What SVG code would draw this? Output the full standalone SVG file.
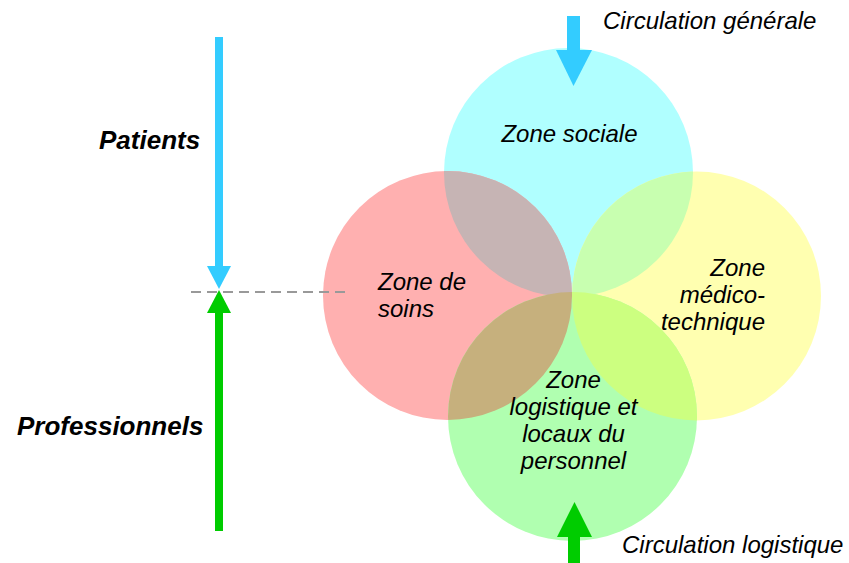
<svg xmlns="http://www.w3.org/2000/svg" width="849" height="563" viewBox="0 0 849 563">
  <style>
    .zone { font-family: "Liberation Sans", Arial, sans-serif; font-style: italic; font-size: 24px; fill: #000; }
    .flow { font-family: "Liberation Sans", Arial, sans-serif; font-style: italic; font-size: 24px; fill: #000; }
    .actor { font-family: "Liberation Sans", Arial, sans-serif; font-style: italic; font-weight: bold; font-size: 26px; fill: #000; }
    .blue { fill: #33CCFF; }
    .green { fill: #00CC00; }
  </style>
  <defs>
    <clipPath id="clipSociale"><circle cx="568.5" cy="172.5" r="124.5"/></clipPath>
    <clipPath id="clipLogistique"><circle cx="572.5" cy="416.5" r="124.5"/></clipPath>
  </defs>

  <rect width="849" height="563" fill="#FFFFFF"/>

  <!-- zone circles -->
  <g id="zone-sociale">
    <circle cx="568.5" cy="172.5" r="124.5" fill="#B0FFFF"/>
  </g>
  <g id="zone-soins">
    <circle cx="447.5" cy="295.5" r="124.5" fill="#FFB0B0"/>
  </g>
  <g id="zone-medico-technique">
    <circle cx="696.5" cy="296" r="124.5" fill="#FFFFB0"/>
  </g>
  <g id="zone-logistique">
    <circle cx="572.5" cy="416.5" r="124.5" fill="#B0FFB0"/>
  </g>

  <!-- overlap areas -->
  <g id="overlaps">
    <circle cx="447.5" cy="295.5" r="124.5" fill="#C6B4B4" clip-path="url(#clipSociale)"/>
    <circle cx="696.5" cy="296" r="124.5" fill="#C8FFB0" clip-path="url(#clipSociale)"/>
    <circle cx="447.5" cy="295.5" r="124.5" fill="#C6B07D" clip-path="url(#clipLogistique)"/>
    <circle cx="696.5" cy="296" r="124.5" fill="#CCFF80" clip-path="url(#clipLogistique)"/>
  </g>

  <!-- zone labels -->
  <g id="labels">
    <text class="zone" x="569.5" y="142" text-anchor="middle">Zone sociale</text>
    <text class="zone" x="378" y="290">Zone de</text>
    <text class="zone" x="378" y="317">soins</text>
    <text class="zone" x="765" y="276" text-anchor="end">Zone</text>
    <text class="zone" x="765" y="303" text-anchor="end">médico-</text>
    <text class="zone" x="765" y="330" text-anchor="end">technique</text>
    <text class="zone" x="573.5" y="388" text-anchor="middle">Zone</text>
    <text class="zone" x="573.5" y="415" text-anchor="middle">logistique et</text>
    <text class="zone" x="573.5" y="442" text-anchor="middle">locaux du</text>
    <text class="zone" x="573.5" y="469" text-anchor="middle">personnel</text>
  </g>

  <!-- connectors / flow arrows -->
  <g id="connectors">
    <line x1="191" y1="292" x2="346" y2="292" stroke="#999999" stroke-width="2" stroke-dasharray="10 6"/>
    <!-- patients arrow -->
    <rect class="blue" x="215" y="37" width="8" height="230"/>
    <polygon class="blue" points="207,266 231,266 219,289"/>
    <!-- professionals arrow -->
    <rect class="green" x="215" y="312" width="8" height="219"/>
    <polygon class="green" points="207,313 231,313 219,290"/>
    <!-- general circulation -->
    <rect class="blue" x="567" y="16" width="13" height="36"/>
    <polygon class="blue" points="556,50 592,50 573.5,86"/>
    <!-- logistics circulation -->
    <rect class="green" x="568" y="535" width="12" height="28"/>
    <polygon class="green" points="557,537 592,537 574.5,502"/>
  </g>

  <!-- flow labels -->
  <g id="flow-labels">
    <text class="flow" x="603" y="29">Circulation générale</text>
    <text class="flow" x="622" y="553">Circulation logistique</text>
    <text class="actor" x="99" y="149">Patients</text>
    <text class="actor" x="17" y="435">Professionnels</text>
  </g>
</svg>
